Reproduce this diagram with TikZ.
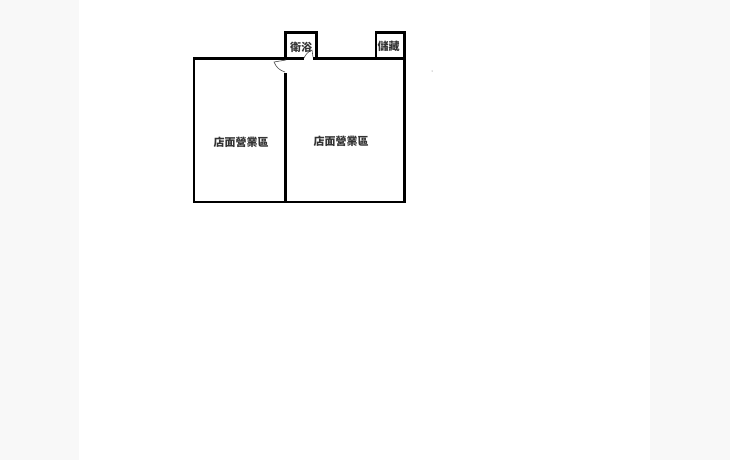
\documentclass[tikz,border=0pt]{standalone}
\usepackage{fontspec}
\newfontfamily\cjk{Noto Sans CJK TC}
\definecolor{sideband}{HTML}{F8F8F8}
\tikzset{
  wall/.style={draw=black,line width=2.8pt,line cap=rect},
  doorline/.style={draw=black!70,line width=0.6pt},
  room/.style={font=\cjk\bfseries\fontsize{11}{11}\selectfont,text=black!80,inner sep=0pt},
}
\begin{document}
\begin{tikzpicture}[x=1pt,y=-1pt]
\useasboundingbox (0,0) rectangle (730,460);
  \fill[sideband] (0,0) rectangle (79,460);
  \fill[sideband] (650,0) rectangle (730,460);
  % walls
  \draw[wall] (285.7,74) -- (285.7,202);
  \draw[wall] (285.7,58.5) -- (194,58.5) -- (194,202) -- (404.5,202) -- (404.5,58.5) -- (314,58.5);
  \draw[wall] (285.7,58.5) -- (303,58.5);
  \draw[wall] (285.7,58.5) -- (285.7,32.5) -- (316.7,32.5) -- (316.7,58.5);
  \draw[wall] (376,58.5) -- (376,32.5) -- (404.5,32.5) -- (404.5,58.5);
  % doors
  \draw[doorline] (286,60) -- (274,62) to[bend right=25] (285,72);
  \draw[doorline] (304,58) to[bend left=20] (312,50) -- (313,57);
  % rooms
  \node[room] (shopa) at (241,142) {店面營業區};
  \node[room] (shopb) at (341,141) {店面營業區};
  \node[room] (bath) at (301,47) {衛浴};
  \node[room] (store) at (388.5,46) {儲藏};
  \fill[black!60] (432,71) circle (0.5);
\end{tikzpicture}
\end{document}
